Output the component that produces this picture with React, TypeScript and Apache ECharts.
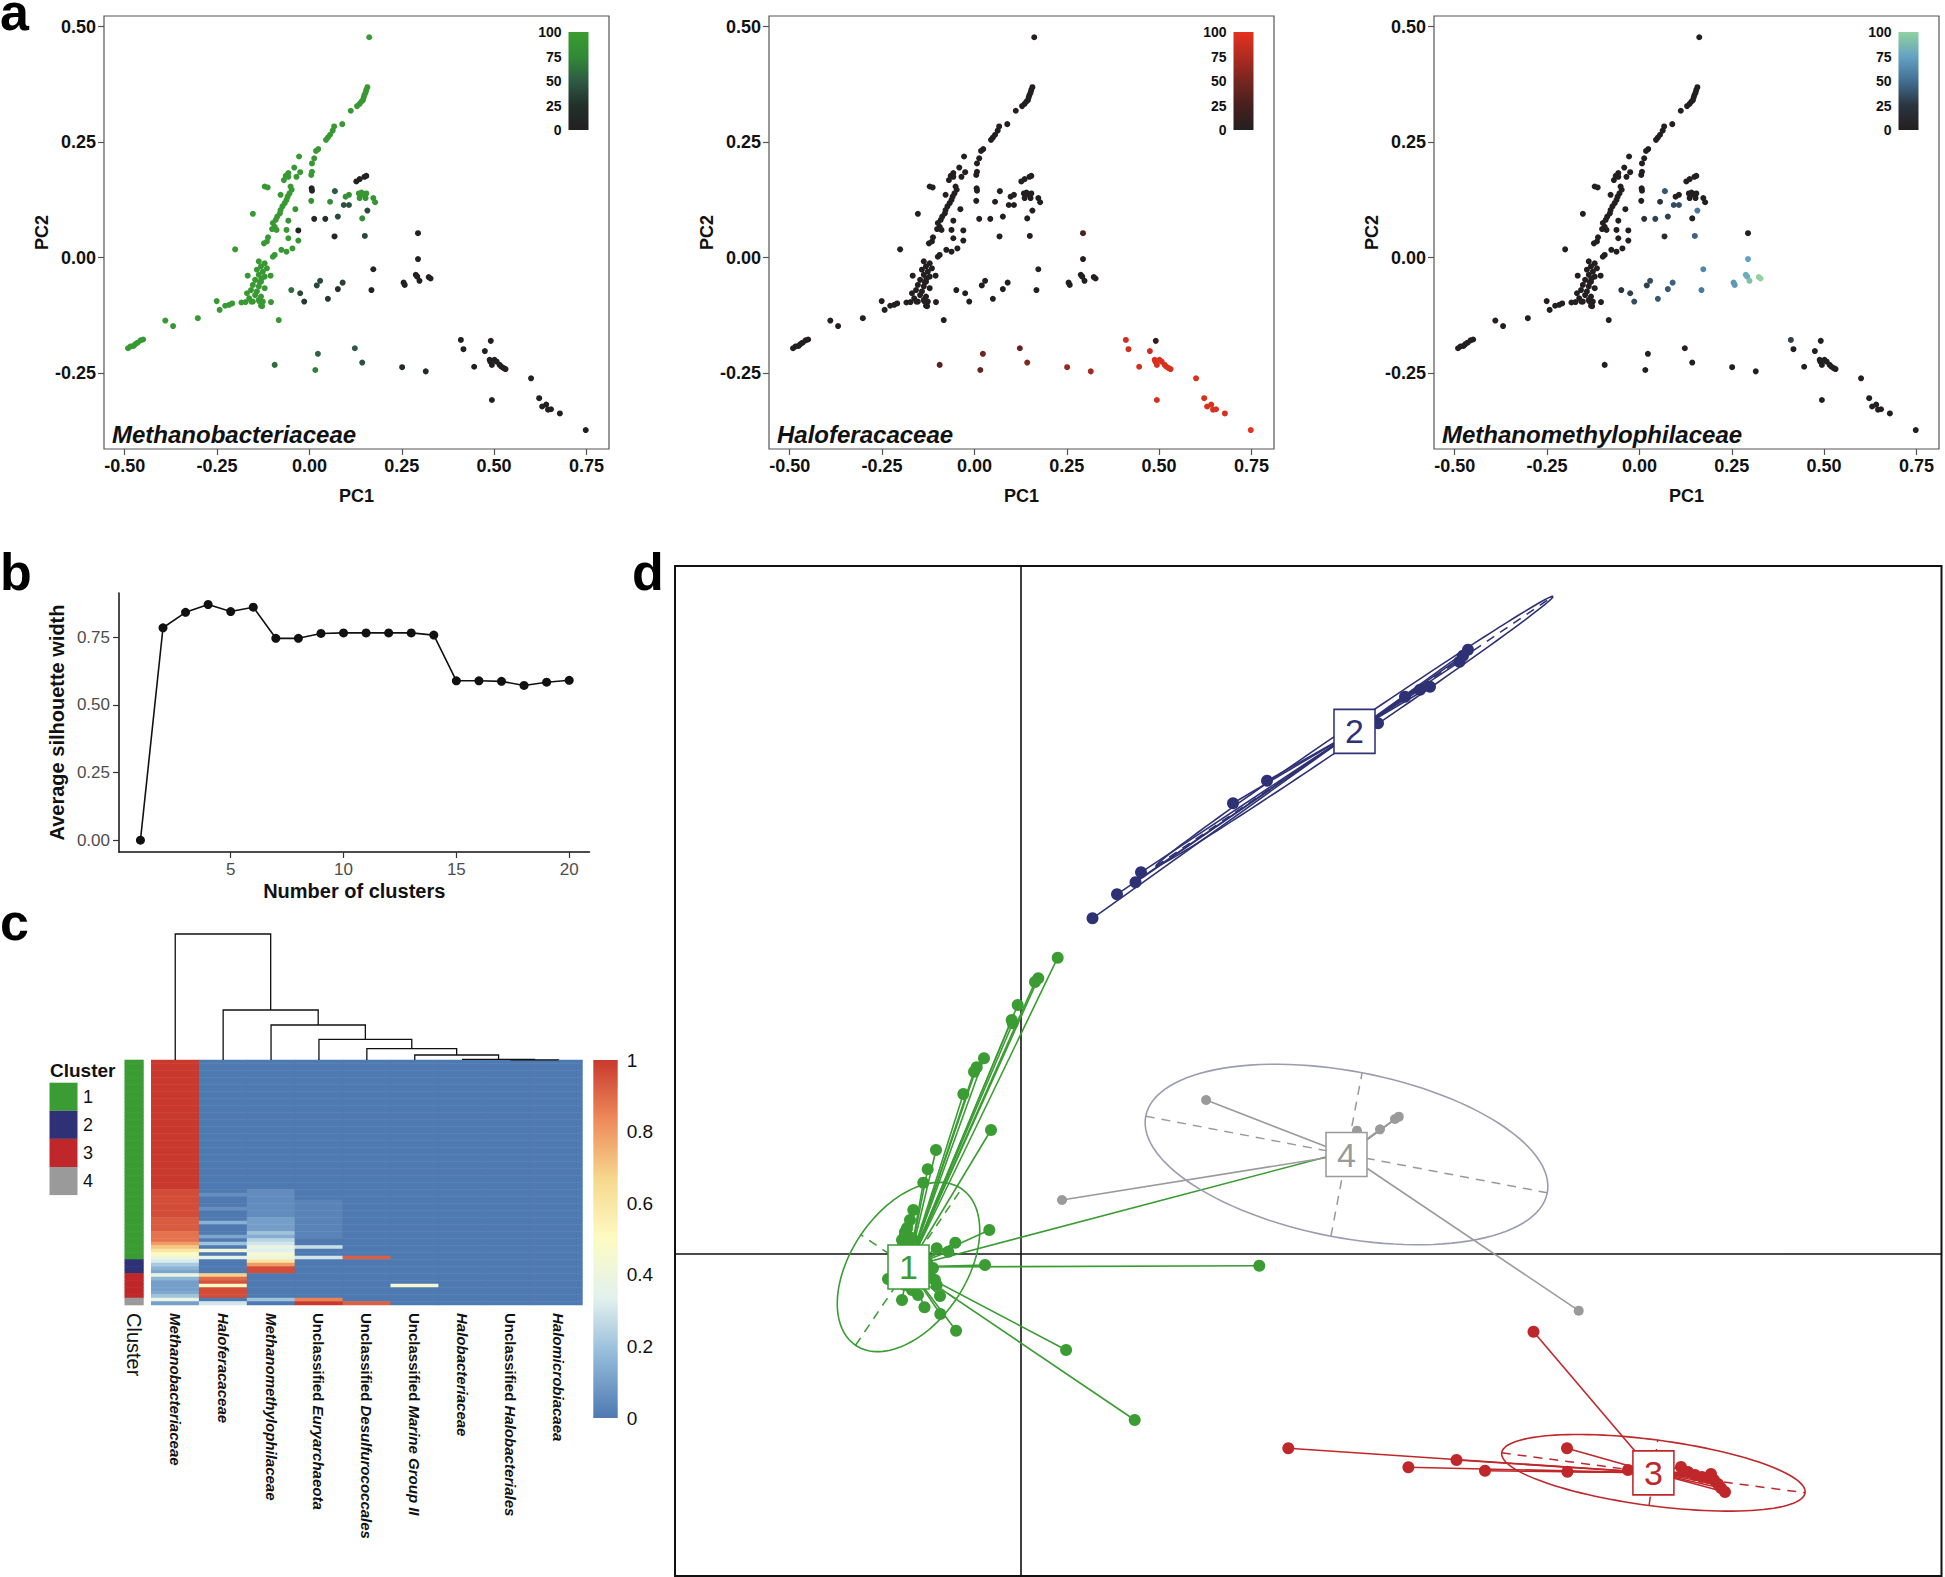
import React, { useEffect, useRef } from "react";
import * as echarts from "echarts";

const FONT = "'Liberation Sans', Arial, Helvetica, sans-serif";

// ---------------- Panel a : PCA of samples coloured by family abundance ----------------
const pc1Ticks = [-0.5, -0.25, 0, 0.25, 0.5, 0.75];
const pc2Ticks = [-0.25, 0, 0.25, 0.5];
// [PC1, PC2, Methanobacteriaceae %, Haloferacaceae %, Methanomethylophilaceae %]
const pcaSamples: number[][] = [
  [0.162, 0.477, 100, 0, 0],
  [0.157, 0.369, 95, 0, 0], [0.154, 0.363, 95, 0, 0], [0.152, 0.357, 95, 0, 0], [0.149, 0.352, 95, 0, 0],
  [0.147, 0.347, 95, 0, 0], [0.145, 0.341, 95, 0, 0], [0.141, 0.338, 95, 0, 0], [0.136, 0.333, 95, 0, 0],
  [0.129, 0.328, 95, 0, 0], [0.112, 0.318, 95, 0, 0], [0.089, 0.289, 95, 0, 0],
  [0.067, 0.284, 95, 0, 0], [0.063, 0.275, 95, 0, 0], [0.056, 0.266, 95, 0, 0], [0.05, 0.26, 95, 0, 0],
  [0.045, 0.255, 95, 0, 0], [0.024, 0.235, 95, 0, 0], [0.018, 0.231, 95, 0, 0], [-0.028, 0.219, 95, 0, 0],
  [0.013, 0.215, 95, 0, 0], [0.007, 0.204, 95, 0, 0], [0.007, 0.186, 95, 0, 0], [0.005, 0.179, 95, 0, 0],
  [0.006, 0.15, 5, 0, 0], [0.007, 0.145, 8, 0, 0],
  [-0.041, 0.195, 95, 0, 0], [-0.057, 0.183, 95, 0, 0], [-0.064, 0.177, 95, 0, 0], [-0.069, 0.168, 95, 0, 0],
  [-0.057, 0.175, 95, 0, 0], [-0.025, 0.185, 95, 0, 0], [-0.035, 0.175, 95, 0, 0],
  [-0.121, 0.154, 95, 0, 0], [-0.113, 0.152, 95, 0, 0],
  [-0.051, 0.154, 95, 0, 0], [-0.048, 0.147, 95, 0, 0], [-0.054, 0.139, 95, 0, 0], [-0.059, 0.132, 95, 0, 0],
  [-0.062, 0.125, 95, 0, 0], [-0.067, 0.118, 95, 0, 0], [-0.073, 0.111, 95, 0, 0], [-0.078, 0.103, 95, 0, 0],
  [-0.078, 0.136, 95, 0, 0], [-0.08, 0.096, 95, 0, 0], [-0.087, 0.089, 95, 0, 0], [-0.091, 0.082, 95, 0, 0],
  [-0.099, 0.075, 95, 0, 0], [-0.094, 0.067, 95, 0, 0], [-0.101, 0.062, 95, 0, 0], [-0.089, 0.06, 95, 0, 0],
  [-0.153, 0.095, 95, 0, 0], [-0.038, 0.105, 90, 0, 0], [-0.057, 0.08, 90, 0, 0], [-0.062, 0.06, 95, 0, 0],
  [-0.03, 0.059, 10, 0, 0], [-0.057, 0.042, 95, 0, 0], [-0.03, 0.037, 90, 0, 0],
  [-0.112, 0.044, 95, 0, 0], [-0.115, 0.035, 95, 0, 0], [-0.123, 0.031, 95, 0, 0],
  [-0.094, 0.006, 95, 0, 0], [-0.099, 0.002, 95, 0, 0], [-0.076, 0.017, 95, 0, 0], [-0.062, 0.013, 95, 0, 0],
  [-0.201, 0.018, 95, 0, 0], [-0.046, 0.02, 95, 0, 0],
  [-0.137, -0.008, 95, 0, 0], [-0.121, -0.012, 95, 0, 0], [-0.131, -0.019, 95, 0, 0], [-0.115, -0.023, 95, 0, 0],
  [-0.142, -0.026, 95, 0, 0], [-0.126, -0.03, 95, 0, 0], [-0.137, -0.037, 95, 0, 0], [-0.121, -0.041, 95, 0, 0],
  [-0.147, -0.048, 95, 0, 0], [-0.131, -0.052, 95, 0, 0], [-0.153, -0.059, 95, 0, 0], [-0.137, -0.062, 95, 0, 0],
  [-0.121, -0.066, 95, 0, 0], [-0.158, -0.07, 95, 0, 0], [-0.142, -0.073, 95, 0, 0], [-0.147, -0.081, 95, 0, 0],
  [-0.131, -0.084, 95, 0, 0], [-0.163, -0.088, 95, 0, 0], [-0.137, -0.091, 95, 0, 0], [-0.153, -0.095, 95, 0, 0],
  [-0.169, -0.077, 95, 0, 0], [-0.126, -0.095, 95, 0, 0], [-0.167, -0.039, 95, 0, 0], [-0.105, -0.039, 95, 0, 0],
  [-0.13, -0.045, 95, 0, 0], [-0.134, -0.053, 95, 0, 0],
  [-0.184, -0.097, 95, 0, 0], [-0.173, -0.096, 95, 0, 0], [-0.157, -0.095, 95, 0, 0], [-0.136, -0.094, 95, 0, 0],
  [-0.104, -0.096, 95, 0, 0], [-0.131, -0.104, 95, 0, 0], [-0.128, -0.105, 95, 0, 0],
  [-0.251, -0.094, 95, 0, 0], [-0.243, -0.113, 95, 0, 0], [-0.228, -0.104, 95, 0, 0], [-0.217, -0.102, 95, 0, 0],
  [-0.209, -0.099, 95, 0, 0], [-0.39, -0.136, 95, 0, 0], [-0.369, -0.148, 95, 0, 0], [-0.302, -0.131, 95, 0, 0],
  [-0.083, -0.135, 95, 0, 0],
  [-0.491, -0.196, 95, 0, 0], [-0.484, -0.192, 95, 0, 0], [-0.476, -0.191, 95, 0, 0], [-0.471, -0.187, 95, 0, 0],
  [-0.465, -0.184, 95, 0, 0], [-0.457, -0.179, 95, 0, 0], [-0.45, -0.177, 95, 0, 0],
  [0.127, 0.165, 5, 0, 0], [0.136, 0.17, 3, 0, 0], [0.149, 0.175, 3, 0, 0], [0.154, 0.177, 3, 0, 0],
  [0.069, 0.144, 50, 0, 40], [0.098, 0.132, 85, 0, 0], [0.107, 0.136, 85, 0, 0], [0.093, 0.114, 45, 0, 35],
  [0.107, 0.114, 45, 0, 35], [0.134, 0.139, 95, 0, 0], [0.141, 0.141, 95, 0, 0], [0.146, 0.137, 95, 0, 0],
  [0.154, 0.139, 95, 0, 0], [0.136, 0.129, 90, 0, 0], [0.152, 0.129, 90, 0, 0], [0.173, 0.129, 90, 0, 0],
  [0.178, 0.12, 90, 0, 0], [0.056, 0.121, 80, 0, 25], [0.005, 0.123, 85, 0, 0], [0.013, 0.084, 10, 0, 20],
  [0.043, 0.084, 25, 0, 30], [0.077, 0.089, 40, 0, 30], [0.157, 0.102, 40, 0, 55], [0.143, 0.085, 80, 0, 0],
  [0.068, 0.046, 10, 0, 15], [0.15, 0.047, 40, 0, 45],
  [0.294, 0.053, 2, 30, 0], [0.294, -0.003, 2, 0, 75], [0.288, -0.037, 2, 0, 80], [0.292, -0.041, 2, 0, 80],
  [0.298, -0.05, 2, 0, 90], [0.323, -0.042, 2, 0, 100], [0.328, -0.045, 2, 0, 100], [0.255, -0.054, 2, 0, 70],
  [0.258, -0.059, 2, 0, 70], [0.173, -0.025, 3, 0, 62], [0.168, -0.07, 5, 0, 55], [0.09, -0.054, 35, 0, 45],
  [0.077, -0.068, 25, 0, 40], [0.05, -0.089, 30, 0, 40], [0.029, -0.05, 40, 0, 35], [0.02, -0.06, 40, 0, 30],
  [-0.049, -0.07, 60, 0, 25], [-0.025, -0.077, 40, 0, 30], [-0.014, -0.095, 30, 0, 35],
  [-0.094, -0.232, 60, 35, 0], [0.016, -0.243, 70, 40, 0], [0.023, -0.208, 55, 45, 0], [0.123, -0.196, 50, 40, 0],
  [0.143, -0.227, 45, 55, 0], [0.251, -0.237, 20, 65, 0], [0.315, -0.246, 15, 70, 0],
  [0.41, -0.178, 0, 90, 30], [0.417, -0.198, 0, 90, 0], [0.491, -0.18, 0, 10, 0], [0.475, -0.202, 0, 90, 0],
  [0.446, -0.236, 0, 92, 0], [0.49, -0.225, 0, 95, 0], [0.494, -0.232, 0, 95, 0], [0.501, -0.221, 0, 95, 0],
  [0.507, -0.225, 0, 95, 0], [0.488, -0.221, 0, 95, 0], [0.515, -0.232, 0, 95, 0], [0.52, -0.236, 0, 95, 0],
  [0.526, -0.239, 0, 95, 0], [0.531, -0.241, 0, 95, 0], [0.494, -0.308, 0, 92, 0], [0.6, -0.261, 0, 95, 0],
  [0.622, -0.304, 0, 95, 0], [0.63, -0.322, 0, 95, 0], [0.641, -0.318, 0, 95, 0], [0.646, -0.329, 0, 95, 0],
  [0.654, -0.328, 0, 95, 0], [0.678, -0.337, 0, 95, 0], [0.748, -0.373, 0, 100, 0],
];
const pcaPanels = [
  { taxon: "Methanobacteriaceae", column: 2, colors: ["#231f20", "#22302a", "#2e5a44", "#318a36", "#3a9d31"] },
  { taxon: "Haloferacaceae", column: 3, colors: ["#231f20", "#47201d", "#762620", "#b02b21", "#e5321f"] },
  { taxon: "Methanomethylophilaceae", column: 4, colors: ["#231f20", "#2a3440", "#426f92", "#64a2c2", "#90d2a0"] },
];

// ---------------- Panel b : silhouette ----------------
const clusterCounts = [1, 2, 3, 4, 5, 6, 7, 8, 9, 10, 11, 12, 13, 14, 15, 16, 17, 18, 19, 20];
const silhouetteWidths = [0.0, 0.785, 0.842, 0.871, 0.845, 0.861, 0.746, 0.746, 0.764, 0.766, 0.766, 0.766, 0.766, 0.758, 0.589, 0.589, 0.587, 0.572, 0.584, 0.591];
const clusterTicks = [5, 10, 15, 20];
const silhouetteTicks = [0, 0.25, 0.5, 0.75];

// ---------------- Panel c : heatmap ----------------
const taxa = [
  "Methanobacteriaceae", "Haloferacaceae", "Methanomethylophilaceae", "Unclassified Euryarchaeota",
  "Unclassified Desulfurococcales", "Unclassified Marine Group II", "Halobacteriaceae",
  "Unclassified Halobacteriales", "Halomicrobiacaea",
];
// [cluster, number of sample rows]
const clusterRowRuns = [[1, 57], [2, 4], [3, 7], [4, 2]];
// per taxon: [firstRow, lastRow, relative abundance]; rows not listed are 0
const heatRuns: number[][][] = [
  [[0, 36, 1.0], [37, 44, 0.96], [45, 48, 0.93], [49, 51, 0.88], [52, 52, 0.8], [53, 53, 0.7], [54, 54, 0.6],
   [55, 55, 0.5], [56, 56, 0.42], [57, 57, 0.32], [58, 58, 0.22], [59, 59, 0.16], [60, 60, 0.12], [61, 61, 0.38],
   [62, 62, 0.16], [63, 65, 0.1], [66, 66, 0.13], [67, 67, 0.2], [68, 68, 0.38], [69, 69, 0.1]],
  [[38, 38, 0.06], [42, 42, 0.06], [46, 46, 0.15], [50, 50, 0.12], [52, 52, 0.2], [54, 54, 0.42], [56, 56, 0.35],
   [61, 61, 0.68], [62, 62, 0.9], [63, 63, 0.95], [64, 64, 0.5], [65, 67, 0.96], [69, 69, 0.3]],
  [[37, 44, 0.05], [45, 48, 0.1], [49, 49, 0.2], [50, 50, 0.14], [51, 51, 0.25], [52, 52, 0.3], [53, 53, 0.38],
   [54, 54, 0.33], [55, 55, 0.45], [56, 56, 0.4], [57, 57, 0.6], [58, 58, 0.8], [59, 60, 0.96], [68, 68, 0.2]],
  [[40, 50, 0.03], [53, 53, 0.28], [56, 56, 0.3], [68, 68, 0.85], [69, 69, 1.0]],
  [[56, 56, 0.92], [69, 69, 0.92]],
  [[64, 64, 0.45]],
  [], [], [],
];
const heatColors = ["#4e79b1", "#8fb7d8", "#e2f1ee", "#fdfbc3", "#f6d88e", "#ee8a5b", "#c9392d"];
const heatTicksInterval = 0.2;
// dendrogram merges: [childA, childB, height]; leaves 0..8, merges numbered from 9
const dendroMerges = [[7, 8, 0.002], [6, 9, 0.007], [5, 10, 0.05], [4, 11, 0.113], [3, 12, 0.207], [2, 13, 0.35], [1, 14, 0.5], [0, 15, 1.26]];

// ---------------- Panel d : cluster ordination ----------------
const clusterNames = ["1", "2", "3", "4"];
const clusterColors = ["#3a9c32", "#2f3175", "#c0272a", "#9a9a9a"];
const ellipseStrokes = ["#3a9c32", "#2f3175", "#c0272a", "#9c9cb0"];
const clusterCenters = [[-0.224, -0.0274], [0.668, 1.044], [1.2658, -0.439], [0.652, 0.1976]];
// [semi-major, semi-minor, angle in degrees]
const clusterEllipses = [[0.189, 0.115, 55.9], [0.48, 0.014, 34.2], [0.306, 0.066, -7.5], [0.4088, 0.1664, -10.8]];
const clusterPoints: number[][][] = [
  [[0.0744, 0.5912], [0.0356, 0.55], [0.029, 0.5426], [-0.0056, 0.4966], [-0.0176, 0.4666], [-0.0156, 0.46],
   [-0.073, 0.39], [-0.0876, 0.372], [-0.093, 0.3632], [-0.1144, 0.3186], [-0.059, 0.2466], [-0.169, 0.2066],
   [-0.1856, 0.168], [-0.1944, 0.1412], [-0.2144, 0.0866], [-0.221, 0.0666], [-0.227, 0.0506], [-0.231, 0.0366],
   [-0.237, 0.0266], [-0.0624, 0.0466], [-0.1304, 0.0212], [-0.1444, 0.0032], [-0.1676, 0.01], [-0.071, -0.0234],
   [0.4776, -0.0248], [0.0912, -0.1934], [0.2284, -0.3334], [-0.1288, -0.1548], [-0.1604, -0.1214], [-0.192, -0.108],
   [-0.171, -0.0534], [-0.1676, -0.0634], [-0.231, 0.0426], [-0.217, 0.0306], [-0.235, 0.0166], [-0.211, 0.0066],
   [-0.241, -0.0034], [-0.201, -0.0094], [-0.245, -0.0434], [-0.191, -0.0534], [-0.231, -0.0634], [-0.217, -0.0734],
   [-0.251, -0.0574], [-0.205, -0.0834], [-0.181, -0.0454], [-0.175, -0.0294], [-0.187, -0.0174], [-0.237, -0.0934],
   [-0.265, -0.0514], [-0.161, -0.0854], [0.649, 0.2026]],
  [[0.144, 0.67], [0.193, 0.718], [0.23, 0.742], [0.241, 0.762], [0.425, 0.9], [0.493, 0.945], [0.715, 1.06],
   [0.769, 1.113], [0.799, 1.127], [0.819, 1.133], [0.878, 1.183], [0.895, 1.207], [0.885, 1.195]],
  [[0.5356, -0.39], [0.872, -0.4134], [0.7758, -0.428], [0.929, -0.4348], [1.0938, -0.4368], [1.093, -0.39],
   [1.026, -0.1568], [1.215, -0.4334], [1.249, -0.4234], [1.321, -0.4274], [1.335, -0.4374], [1.349, -0.4434],
   [1.363, -0.4474], [1.375, -0.4494], [1.381, -0.4414], [1.387, -0.4534], [1.395, -0.4614], [1.401, -0.4694],
   [1.409, -0.4774]],
  [[0.7566, 0.2732], [0.749, 0.2686], [0.719, 0.248], [0.673, 0.2452], [1.1164, -0.1148], [0.3712, 0.3066], [0.083, 0.1066]],
];

// ---------------- helpers ----------------
const PCA_LEFT = [104, 769, 1434];

function gradientBar(colors: string[], xmax: number, ymax: number) {
  return (_p: any, api: any) => {
    const p0 = api.coord([0, 0]);
    const p1 = api.coord([xmax, ymax]);
    return {
      type: "rect",
      shape: { x: p0[0], y: p1[1], width: p1[0] - p0[0], height: p0[1] - p1[1] },
      style: {
        fill: new echarts.graphic.LinearGradient(0, 1, 0, 0,
          colors.map((c, k) => ({ offset: k / (colors.length - 1), color: c }))),
      },
    };
  };
}

function cellRender(_p: any, api: any) {
  const c = api.coord([api.value(0), api.value(1)]);
  const s = api.size([1, 1]);
  return {
    type: "rect",
    shape: { x: c[0] - s[0] / 2 - 0.3, y: c[1] - s[1] / 2 - 0.3, width: s[0] + 0.6, height: s[1] + 0.6 },
    style: { fill: api.visual("color") },
  };
}

function dendroRender(_p: any, api: any) {
  const x1 = api.value(0), x2 = api.value(1), h1 = api.value(2), h2 = api.value(3), h = api.value(4);
  const pts = [[x1, h1], [x1, h], [x2, h], [x2, h2]].map((p) => api.coord(p));
  return { type: "polyline", shape: { points: pts }, style: { stroke: "#111", lineWidth: 1.3, fill: "none" } };
}

function ellipseRender(stroke: string, dashColor: string) {
  return (_p: any, api: any) => {
    const cx = api.value(0), cy = api.value(1), a = api.value(2), b = api.value(3);
    const ang = (api.value(4) * Math.PI) / 180;
    const ux = Math.cos(ang), uy = Math.sin(ang), vx = -uy, vy = ux;
    const pts: number[][] = [];
    for (let k = 0; k <= 120; k++) {
      const t = (k / 120) * 2 * Math.PI;
      pts.push(api.coord([cx + a * Math.cos(t) * ux + b * Math.sin(t) * vx, cy + a * Math.cos(t) * uy + b * Math.sin(t) * vy]));
    }
    const m1 = api.coord([cx - a * ux, cy - a * uy]), m2 = api.coord([cx + a * ux, cy + a * uy]);
    const n1 = api.coord([cx - b * vx, cy - b * vy]), n2 = api.coord([cx + b * vx, cy + b * vy]);
    return {
      type: "group",
      children: [
        { type: "polyline", shape: { points: pts }, style: { stroke, fill: "none", lineWidth: 1.6 } },
        { type: "line", shape: { x1: m1[0], y1: m1[1], x2: m2[0], y2: m2[1] }, style: { stroke: dashColor, lineWidth: 1.5, lineDash: [9, 7] } },
        { type: "line", shape: { x1: n1[0], y1: n1[1], x2: n2[0], y2: n2[1] }, style: { stroke: dashColor, lineWidth: 1.5, lineDash: [9, 7] } },
      ],
    };
  };
}

function taxonLabel(name: string) {
  if (name.startsWith("Unclassified ")) return `{u|Unclassified }{i|${name.slice(13)}}`;
  return `{i|${name}}`;
}

function buildOption() {
  const grid: any[] = [], xAxis: any[] = [], yAxis: any[] = [], series: any[] = [], visualMap: any[] = [], graphic: any[] = [];
  const addGrid = (g: any) => { grid.push({ outerBoundsMode: "none", containLabel: false, ...g }); return grid.length - 1; };
  const bold = (size: number) => ({ fontFamily: FONT, fontWeight: "bold", fontSize: size, color: "#111" });
  const letter = (t: string, x: number, baseline: number) =>
    graphic.push({ type: "text", x, y: baseline - 18, style: { text: t, fontFamily: FONT, fontWeight: "bold", fontSize: 52, fill: "#000", verticalAlign: "middle" } });

  // ---- panel a ----
  pcaPanels.forEach((panel, i) => {
    const left = PCA_LEFT[i];
    const gi = addGrid({ left, top: 16, width: 505, height: 433, show: true, borderColor: "#555", borderWidth: 1.2 });
    xAxis.push({
      gridIndex: gi, type: "value", min: -0.556, max: 0.811, name: "PC1", nameLocation: "middle", nameGap: 38,
      nameTextStyle: bold(18), axisLine: { show: false, onZero: false }, splitLine: { show: false },
      axisTick: { show: true, length: 6, lineStyle: { color: "#555", width: 1.2 }, customValues: pc1Ticks },
      axisLabel: { ...bold(18), margin: 8, customValues: pc1Ticks, formatter: (v: number) => v.toFixed(2) },
    });
    yAxis.push({
      gridIndex: gi, type: "value", min: -0.414, max: 0.523, name: "PC2", nameLocation: "middle", nameRotate: 90, nameGap: 45,
      nameTextStyle: bold(18), axisLine: { show: false, onZero: false }, splitLine: { show: false },
      axisTick: { show: true, length: 6, lineStyle: { color: "#555", width: 1.2 }, customValues: pc2Ticks },
      axisLabel: { ...bold(18), margin: 8, customValues: pc2Ticks, formatter: (v: number) => v.toFixed(2) },
    });
    const si = series.length;
    series.push({
      type: "scatter", xAxisIndex: gi, yAxisIndex: gi, symbolSize: 6, silent: true, itemStyle: { opacity: 1 },
      data: pcaSamples.map((s) => [s[0], s[1], s[panel.column]]),
    });
    visualMap.push({ type: "continuous", show: false, seriesIndex: si, dimension: 2, min: 0, max: 100, inRange: { color: panel.colors } });
    const ci = addGrid({ left: left + 464.5, top: 32, width: 20, height: 98 });
    xAxis.push({ gridIndex: ci, type: "value", min: 0, max: 1, show: false });
    yAxis.push({
      gridIndex: ci, type: "value", min: 0, max: 100, interval: 25, axisLine: { show: false, onZero: false }, splitLine: { show: false },
      axisTick: { show: true, inside: true, length: 4, lineStyle: { color: "#fff", width: 1 } },
      axisLabel: { ...bold(14), margin: 7 },
    });
    series.push({ type: "custom", xAxisIndex: ci, yAxisIndex: ci, data: [[0, 0]], renderItem: gradientBar(panel.colors, 1, 100), silent: true, z: 1 });
    graphic.push({
      type: "text", x: left + 8, y: 434, z: 20,
      style: { text: panel.taxon, fontFamily: FONT, fontWeight: "bold", fontStyle: "italic", fontSize: 24, fill: "#111", verticalAlign: "middle" },
    });
  });
  letter("a", 0, 30);

  // ---- panel b ----
  const bi = addGrid({ left: 119, top: 593, width: 470.5, height: 259 });
  const tickLab = { fontFamily: FONT, fontSize: 17, color: "#4d4d4d" };
  xAxis.push({
    gridIndex: bi, type: "value", min: 0.05, max: 20.9, name: "Number of clusters", nameLocation: "middle", nameGap: 29,
    nameTextStyle: bold(20), splitLine: { show: false },
    axisLine: { show: true, onZero: false, lineStyle: { color: "#111", width: 1.5 } },
    axisTick: { show: true, length: 6, customValues: clusterTicks, lineStyle: { color: "#333", width: 1.2 } },
    axisLabel: { ...tickLab, margin: 9, customValues: clusterTicks },
  });
  yAxis.push({
    gridIndex: bi, type: "value", min: -0.0435, max: 0.9135, name: "Average silhouette width", nameLocation: "middle",
    nameRotate: 90, nameGap: 52, nameTextStyle: bold(20), splitLine: { show: false },
    axisLine: { show: true, onZero: false, lineStyle: { color: "#111", width: 1.5 } },
    axisTick: { show: true, length: 6, customValues: silhouetteTicks, lineStyle: { color: "#333", width: 1.2 } },
    axisLabel: { ...tickLab, margin: 9, customValues: silhouetteTicks, formatter: (v: number) => v.toFixed(2) },
  });
  series.push({
    type: "line", xAxisIndex: bi, yAxisIndex: bi, silent: true, symbol: "circle", symbolSize: 9, showSymbol: true,
    data: clusterCounts.map((k, i) => [k, silhouetteWidths[i]]),
    itemStyle: { color: "#111" }, lineStyle: { color: "#111", width: 1.6 },
  });
  letter("b", 0, 590);

  // ---- panel c ----
  const rowLabels: string[] = [];
  const rowCluster: number[] = [];
  clusterRowRuns.forEach(([c, n]) => { for (let k = 0; k < n; k++) { rowCluster.push(c); rowLabels.push(String(rowLabels.length)); } });

  const ai = addGrid({ left: 124.8, top: 1060, width: 18.6, height: 245 });
  xAxis.push({
    gridIndex: ai, type: "category", data: ["Cluster"], axisLine: { show: false }, axisTick: { show: false }, splitLine: { show: false },
    axisLabel: { interval: 0, rotate: -90, margin: 8, fontFamily: FONT, fontSize: 20, color: "#111" },
  });
  yAxis.push({ gridIndex: ai, type: "category", data: rowLabels, inverse: true, show: false });
  const annIdx = series.length;
  series.push({ type: "custom", xAxisIndex: ai, yAxisIndex: ai, silent: true, data: rowCluster.map((c, r) => [0, r, c]), renderItem: cellRender });
  visualMap.push({ type: "piecewise", show: false, seriesIndex: annIdx, dimension: 2, pieces: clusterColors.map((color, k) => ({ value: k + 1, color })) });

  const hi = addGrid({ left: 151.3, top: 1060, width: 431.1, height: 245 });
  xAxis.push({
    gridIndex: hi, type: "category", data: taxa, axisLine: { show: false }, axisTick: { show: false }, splitLine: { show: false },
    axisLabel: {
      interval: 0, rotate: -90, margin: 8, fontFamily: FONT, fontSize: 15, fontWeight: "bold", color: "#111", formatter: taxonLabel,
      rich: {
        u: { fontFamily: FONT, fontSize: 15, fontWeight: "bold", fontStyle: "normal", color: "#111" },
        i: { fontFamily: FONT, fontSize: 15, fontWeight: "bold", fontStyle: "italic", color: "#111" },
      },
    },
  });
  yAxis.push({ gridIndex: hi, type: "category", data: rowLabels, inverse: true, show: false });
  const heatData: number[][] = [];
  taxa.forEach((_t, c) => {
    const col = rowLabels.map(() => 0);
    heatRuns[c].forEach(([a, b, v]) => { for (let r = a; r <= b; r++) col[r] = v; });
    col.forEach((v, r) => heatData.push([c, r, v]));
  });
  const heatIdx = series.length;
  series.push({ type: "custom", xAxisIndex: hi, yAxisIndex: hi, silent: true, data: heatData, renderItem: cellRender });
  visualMap.push({ type: "continuous", show: false, seriesIndex: heatIdx, dimension: 2, min: 0, max: 1, inRange: { color: heatColors } });

  const di = addGrid({ left: 151.3, top: 930, width: 431.1, height: 130 });
  xAxis.push({ gridIndex: di, type: "value", min: 0, max: taxa.length, show: false });
  yAxis.push({ gridIndex: di, type: "value", min: 0, max: 1.3, show: false });
  const nodePos = taxa.map((_t, i) => i + 0.5);
  const nodeH = taxa.map(() => 0);
  const dendroSegs = dendroMerges.map(([a, b, h]) => {
    const seg = [nodePos[a], nodePos[b], nodeH[a], nodeH[b], h];
    nodePos.push((nodePos[a] + nodePos[b]) / 2);
    nodeH.push(h);
    return seg;
  });
  series.push({ type: "custom", xAxisIndex: di, yAxisIndex: di, silent: true, data: dendroSegs, renderItem: dendroRender, z: 5 });

  const hci = addGrid({ left: 593.3, top: 1060, width: 24.4, height: 358 });
  xAxis.push({ gridIndex: hci, type: "value", min: 0, max: 1, show: false });
  yAxis.push({
    gridIndex: hci, type: "value", position: "right", min: 0, max: 1, interval: heatTicksInterval,
    axisLine: { show: false }, axisTick: { show: false }, splitLine: { show: false },
    axisLabel: { fontFamily: FONT, fontSize: 19, color: "#111", margin: 9, formatter: (v: number) => String(Math.round(v * 10) / 10) },
  });
  series.push({ type: "custom", xAxisIndex: hci, yAxisIndex: hci, data: [[0, 0]], silent: true, renderItem: gradientBar(heatColors, 1, 1) });

  graphic.push({ type: "text", x: 50, y: 1070, style: { text: "Cluster", fontFamily: FONT, fontWeight: "bold", fontSize: 19, fill: "#111", verticalAlign: "middle" } });
  clusterNames.forEach((n, k) => {
    graphic.push({ type: "rect", shape: { x: 49.5, y: 1082.7 + k * 28.1, width: 28, height: 28.1 }, style: { fill: clusterColors[k] } });
    graphic.push({ type: "text", x: 83, y: 1082.7 + k * 28.1 + 14, style: { text: n, fontFamily: FONT, fontSize: 18, fill: "#111", verticalAlign: "middle" } });
  });
  letter("c", 0, 940);

  // ---- panel d ----
  const pi = addGrid({ left: 675, top: 566, width: 1266.5, height: 1010, show: true, borderColor: "#111", borderWidth: 2 });
  xAxis.push({
    gridIndex: pi, type: "value", min: -0.691, max: 1.842, axisLine: { show: true, onZero: true, lineStyle: { color: "#111", width: 1.6 } },
    axisTick: { show: false }, axisLabel: { show: false }, splitLine: { show: false },
  });
  yAxis.push({
    gridIndex: pi, type: "value", min: -0.6454, max: 1.3746, axisLine: { show: true, onZero: true, lineStyle: { color: "#111", width: 1.6 } },
    axisTick: { show: false }, axisLabel: { show: false }, splitLine: { show: false },
  });
  clusterNames.forEach((_n, k) => {
    const color = clusterColors[k];
    const ctr = clusterCenters[k];
    const pts = clusterPoints[k];
    series.push({
      type: "lines", coordinateSystem: "cartesian2d", xAxisIndex: pi, yAxisIndex: pi, silent: true, z: 2,
      data: pts.map((p) => ({ coords: [ctr, p] })), lineStyle: { color, width: 1.6, opacity: 1, curveness: 0 },
    });
    series.push({
      type: "scatter", xAxisIndex: pi, yAxisIndex: pi, silent: true, z: 3, data: pts,
      symbolSize: k === 3 ? 10 : 12, itemStyle: { color, opacity: 1 },
    });
    series.push({
      type: "custom", xAxisIndex: pi, yAxisIndex: pi, silent: true, z: 4,
      data: [[ctr[0], ctr[1], ...clusterEllipses[k]]], renderItem: ellipseRender(ellipseStrokes[k], color),
    });
  });
  series.push({
    type: "scatter", xAxisIndex: pi, yAxisIndex: pi, silent: true, z: 10, symbol: "rect", symbolSize: [41, 44],
    itemStyle: { color: "#fff", opacity: 1, borderWidth: 1.6 },
    data: clusterCenters.map((c, k) => ({
      value: c, name: clusterNames[k],
      itemStyle: { color: "#ffffff", opacity: 1, borderColor: clusterColors[k], borderWidth: 1.6 },
      label: { color: clusterColors[k] },
    })),
    label: { show: true, position: "inside", formatter: "{b}", fontFamily: FONT, fontSize: 34, opacity: 1 },
  });
  letter("d", 632, 590);

  return { animation: false, backgroundColor: "#fff", textStyle: { fontFamily: FONT }, grid, xAxis, yAxis, series, visualMap, graphic };
}

export default function App() {
  const ref = useRef<HTMLDivElement>(null);
  useEffect(() => {
    document.body.style.margin = "0";
    const chart = echarts.init(ref.current!, null, { renderer: "svg" });
    chart.setOption(buildOption() as any);
    return () => chart.dispose();
  }, []);
  return <div ref={ref} style={{ position: "absolute", left: 0, top: 0, width: 1945, height: 1577, background: "#fff" }} />;
}
